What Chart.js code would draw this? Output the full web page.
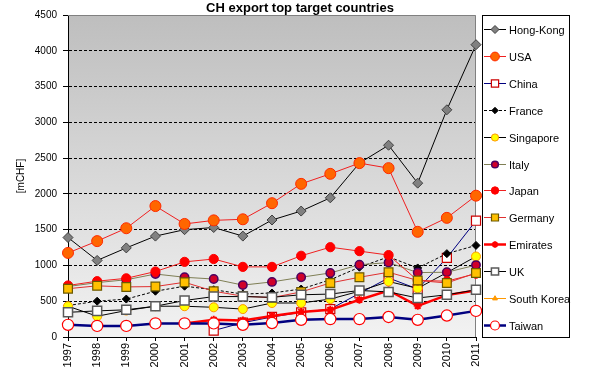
<!DOCTYPE html>
<html>
<head>
<meta charset="utf-8">
<title>CH export top target countries</title>
<script src="https://cdn.jsdelivr.net/npm/chart.js@4.4.1/dist/chart.umd.min.js"></script>
<style>
  html, body { margin: 0; padding: 0; background: #fff; }
  #wrap { width: 590px; height: 375px; position: relative; }
</style>
</head>
<body>
<div id="wrap"><canvas id="exportChart"></canvas></div>
<script>
// years (x axis)
const years = ['1997', '1998', '1999', '2000', '2001', '2002', '2003', '2004',
               '2005', '2006', '2007', '2008', '2009', '2010', '2011'];

// y axis ticks [mCHF]
const yTickValues = [0, 500, 1000, 1500, 2000, 2500, 3000, 3500, 4000, 4500];

// export values per country, mCHF
const hongKong   = [1390, 1070, 1245, 1410, 1500, 1530, 1410, 1635, 1760, 1945, 2430, 2680, 2150, 3175, 4085];
const usa        = [1175, 1340, 1520, 1830, 1580, 1630, 1645, 1870, 2140, 2280, 2430, 2360, 1470, 1665, 1975];
const china      = [null, null, null, null, null, 90, 200, 280, 345, 390, 610, 825, 670, 1105, 1625];
const france     = [440, 500, 530, 640, 710, 660, 600, 615, 670, 800, 975, 1120, 965, 1165, 1280];
const singapore  = [430, 290, 370, 430, 430, 415, 390, 475, 475, 530, 640, 775, 680, 900, 1125];
const italy      = [705, 760, 800, 880, 835, 810, 725, 770, 835, 895, 1010, 1040, 900, 905, 1005];
const japan      = [720, 780, 820, 915, 1050, 1090, 980, 980, 1135, 1255, 1200, 1145, 790, 780, 885];
const germany    = [675, 715, 700, 705, 765, 640, 570, 550, 630, 755, 835, 905, 790, 755, 895];
const emirates   = [null, null, null, null, 190, 240, 230, 295, 350, 380, 520, 650, 435, 585, 650];
const uk         = [345, 365, 380, 430, 510, 565, 565, 555, 590, 600, 650, 630, 545, 590, 660];
const southKorea = [170, 155, 155, 190, 190, 190, 170, 195, 240, 250, 250, 280, 240, 300, 365];
const taiwan     = [170, 155, 155, 190, 190, 190, 170, 195, 240, 250, 250, 280, 240, 300, 365];

// series look (Excel-like)
const series = [
    { label: 'Hong-Kong',   data: hongKong,   line: '#000000', width: 1,   style: 'rectRot',  r: 5,   fill: '#808080', edge: '#404040', edgeW: 1 },
    { label: 'USA',         data: usa,        line: '#F02020', width: 1,   style: 'circle',   r: 5.5, fill: '#FF6600', edge: '#FF2A00', edgeW: 1 },
    { label: 'China',       data: china,      line: '#000080', width: 1,   style: 'rect',     r: 6.4, fill: '#FFFFFF', edge: '#CC0000', edgeW: 1.2 },
    { label: 'France',      data: france,     line: '#000000', width: 1,   style: 'rectRot',  r: 4,   fill: '#000000', edge: '#000000', edgeW: 1, dash: [3, 2] },
    { label: 'Singapore',   data: singapore,  line: '#000000', width: 1,   style: 'circle',   r: 4.5, fill: '#FFFF00', edge: '#FF9900', edgeW: 1 },
    { label: 'Italy',       data: italy,      line: '#7F7F55', width: 1,   style: 'circle',   r: 4.2, fill: '#D0002A', edge: '#4B0060', edgeW: 1.5 },
    { label: 'Japan',       data: japan,      line: '#F02020', width: 1,   style: 'circle',   r: 4.6, fill: '#FF0000', edge: '#FF0000', edgeW: 1 },
    { label: 'Germany',     data: germany,    line: '#E03030', width: 1,   style: 'rect',     r: 6.2, fill: '#FFC000', edge: '#6B5800', edgeW: 1.2 },
    { label: 'Emirates',    data: emirates,   line: '#FF0000', width: 2.5, style: 'star',     r: 4,   fill: '#FF0000', edge: '#FF0000', edgeW: 2 },
    { label: 'UK',          data: uk,         line: '#000000', width: 1,   style: 'rect',     r: 6.4, fill: '#FFFFFF', edge: '#595959', edgeW: 1.5 },
    { label: 'South Korea', data: southKorea, line: '#FF9900', width: 1,   style: 'triangle', r: 3.5, fill: '#FF9900', edge: '#FF9900', edgeW: 1 },
    { label: 'Taiwan',      data: taiwan,     line: '#000080', width: 2.5, style: 'circle',   r: 5.6, fill: '#FFFFFF', edge: '#FF0000', edgeW: 1.2 }
];

const FONT = '"Liberation Sans", Arial, sans-serif';

// gray gradient plot area + frame
const plotBackground = {
    id: 'plotBackground',
    beforeDraw(chart) {
        const { ctx, chartArea: a } = chart;
        ctx.save();
        ctx.fillStyle = '#ffffff';
        ctx.fillRect(0, 0, chart.width, chart.height);
        const g = ctx.createLinearGradient(0, a.top, 0, a.bottom);
        g.addColorStop(0, '#BEBEBE');
        g.addColorStop(1, '#F2F2F2');
        ctx.fillStyle = g;
        ctx.fillRect(a.left, a.top, a.right - a.left, a.bottom - a.top);
        ctx.restore();
    },
    beforeDatasetsDraw(chart) {
        const { ctx, chartArea: a } = chart;
        ctx.save();
        ctx.strokeStyle = '#808080';
        ctx.lineWidth = 1;
        ctx.beginPath();
        ctx.moveTo(a.left, a.top + 0.5);
        ctx.lineTo(a.right - 0.5, a.top + 0.5);
        ctx.lineTo(a.right - 0.5, a.bottom);
        ctx.stroke();
        ctx.restore();
    }
};

// title + boxed legend on the right
const titleAndLegend = {
    id: 'titleAndLegend',
    afterDraw(chart) {
        const ctx = chart.ctx;
        ctx.save();
        ctx.fillStyle = '#000';
        ctx.font = 'bold 13px ' + FONT;
        ctx.textAlign = 'center';
        ctx.textBaseline = 'alphabetic';
        ctx.fillText('CH export top target countries', 300, 12);

        ctx.strokeStyle = '#000';
        ctx.lineWidth = 1;
        ctx.strokeRect(482.5, 15.5, 87, 322);

        ctx.font = '11px ' + FONT;
        ctx.textAlign = 'left';
        ctx.textBaseline = 'middle';
        chart.data.datasets.forEach((ds, i) => {
            const y = Math.round(29 + i * 26.9) + 0.5;
            ctx.save();
            ctx.strokeStyle = ds.borderColor;
            ctx.lineWidth = ds.borderWidth;
            ctx.setLineDash(ds.borderDash || []);
            ctx.beginPath();
            ctx.moveTo(484, y);
            ctx.lineTo(506, y);
            ctx.stroke();
            ctx.setLineDash([]);
            ctx.fillStyle = ds.pointBackgroundColor;
            ctx.strokeStyle = ds.pointBorderColor;
            ctx.lineWidth = ds.pointBorderWidth;
            Chart.helpers.drawPoint(ctx, {
                pointStyle: ds.pointStyle,
                radius: ds.pointRadius * 0.8,
                rotation: 0,
                borderWidth: ds.pointBorderWidth
            }, 495, y);
            ctx.restore();
            ctx.fillStyle = '#000';
            ctx.fillText(ds.label, 509, y + 1);
        });
        ctx.restore();
    }
};

new Chart(document.getElementById('exportChart'), {
    type: 'line',
    data: {
        labels: years,
        datasets: series.map((s, i) => ({
            label: s.label,
            data: s.data,
            borderColor: s.line,
            borderWidth: s.width,
            borderDash: s.dash || [],
            pointStyle: s.style,
            pointRadius: s.r,
            pointBackgroundColor: s.fill,
            pointBorderColor: s.edge,
            pointBorderWidth: s.edgeW,
            tension: 0,
            fill: false,
            order: series.length - i   // later series on top, like Excel
        }))
    },
    options: {
        responsive: true,
        maintainAspectRatio: false,
        animation: false,
        events: [],
        layout: { padding: { top: 15, right: 114, left: 0, bottom: 0 } },
        plugins: {
            legend: { display: false },
            title: { display: false },
            tooltip: { enabled: false }
        },
        scales: {
            x: {
                offset: false,
                border: { color: '#000', width: 1 },
                grid: { drawOnChartArea: false, tickLength: 4, tickColor: '#000' },
                ticks: {
                    color: '#000', font: { family: FONT, size: 11 },
                    minRotation: 90, maxRotation: 90, autoSkip: false, padding: 2
                },
                afterFit(scale) { scale.height = 38; }
            },
            y: {
                min: 0,
                max: 4500,
                border: { color: '#000', width: 1, dash: [3, 2] },
                grid: {
                    color: c => (c.tick && (c.tick.value === 0 || c.tick.value === 4500)) ? 'rgba(0,0,0,0)' : '#000',
                    tickColor: '#000',
                    tickLength: 5,
                    lineWidth: 1
                },
                ticks: {
                    color: '#000', font: { family: FONT, size: 10 }, padding: 6,
                    callback: v => String(v)
                },
                afterBuildTicks(scale) { scale.ticks = yTickValues.map(v => ({ value: v })); },
                title: {
                    display: true, text: '[mCHF]', color: '#000',
                    font: { family: FONT, size: 10 }, padding: { top: 15, bottom: 0 }
                },
                afterFit(scale) { scale.width = 68; }
            }
        }
    },
    plugins: [plotBackground, titleAndLegend]
});
</script>
</body>
</html>
